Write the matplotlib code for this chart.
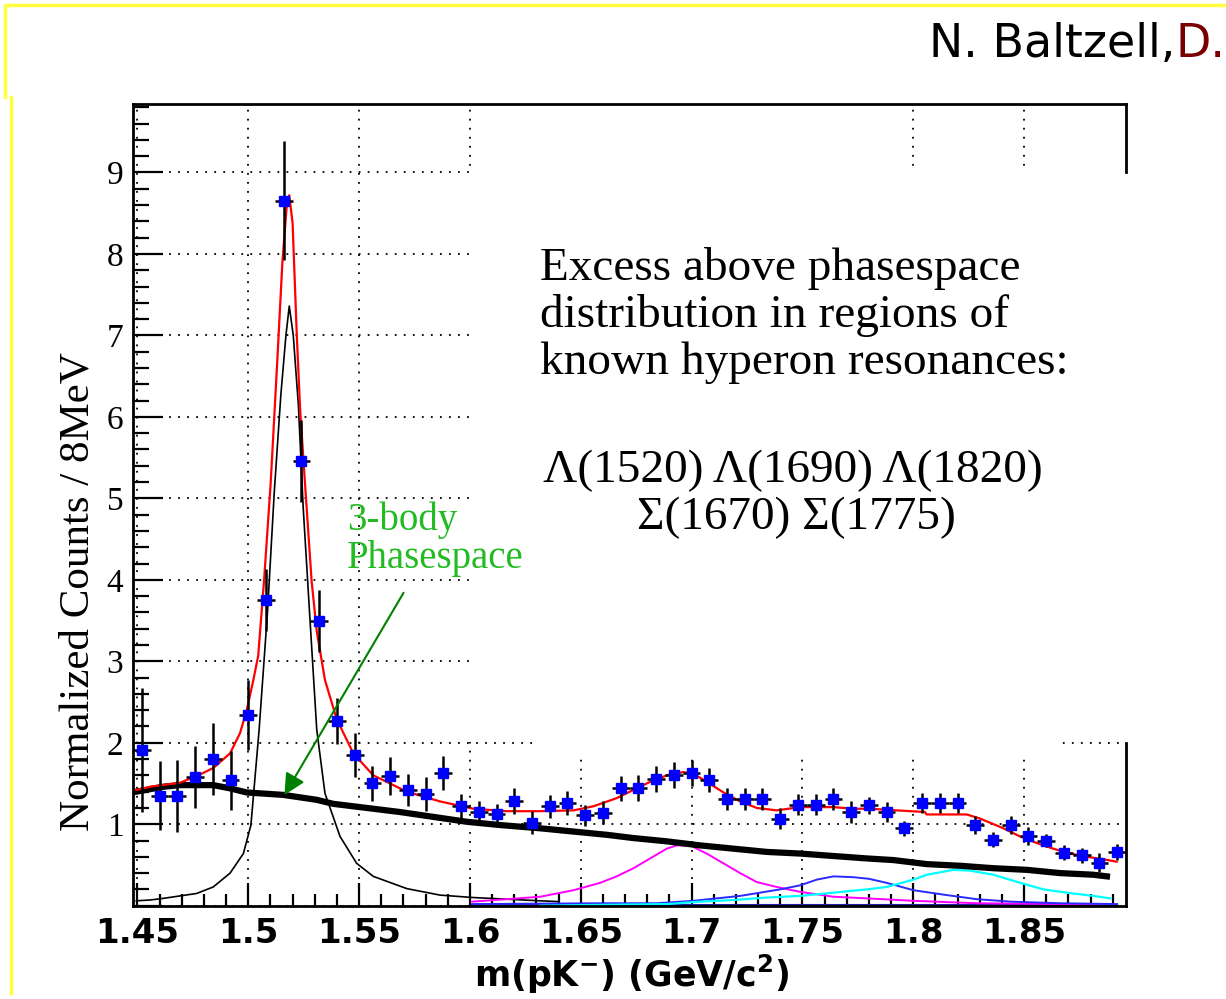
import numpy as np
import matplotlib
matplotlib.use('Agg')
import matplotlib.pyplot as plt
from matplotlib.lines import Line2D
from matplotlib.patches import Rectangle
from matplotlib.ticker import MultipleLocator, FuncFormatter

# histogram: 56 bins of 8 MeV from 1.448 GeV
bin_lo = 1.448
bin_w = 0.008
counts = [1.91, 1.35, 1.35, 1.58, 1.80, 1.54, 2.34, 3.75, 8.65, 5.46,
          3.50, 2.27, 1.85, 1.50, 1.59, 1.42, 1.37, 1.63, 1.22, 1.15,
          1.13, 1.29, 1.02, 1.22, 1.26, 1.11, 1.14, 1.44, 1.45, 1.55,
          1.60, 1.63, 1.54, 1.31, 1.31, 1.31, 1.07, 1.24, 1.24, 1.31,
          1.15, 1.23, 1.15, 0.95, 1.26, 1.26, 1.26, 0.99, 0.81, 0.99,
          0.86, 0.80, 0.65, 0.62, 0.53, 0.66]
errors = [0.76, 0.42, 0.44, 0.38, 0.44, 0.36, 0.43, 0.38, 0.73, 0.50,
          0.38, 0.28, 0.27, 0.22, 0.23, 0.20, 0.21, 0.21, 0.15, 0.13,
          0.12, 0.16, 0.14, 0.14, 0.15, 0.13, 0.14, 0.15, 0.16, 0.16,
          0.16, 0.16, 0.15, 0.14, 0.14, 0.14, 0.13, 0.13, 0.13, 0.14,
          0.13, 0.11, 0.12, 0.09, 0.12, 0.12, 0.12, 0.11, 0.09, 0.11,
          0.11, 0.08, 0.09, 0.09, 0.12, 0.10]
mass = bin_lo + bin_w * (np.arange(len(counts)) + 0.5)

# total fit
fit_m = [1.4495, 1.4557, 1.4692, 1.4767, 1.4842, 1.4918, 1.4963, 1.4993, 1.5023, 1.5045,
         1.5071, 1.5101, 1.5131, 1.5154, 1.5173, 1.5185, 1.5200, 1.5219, 1.5234, 1.5256,
         1.5286, 1.5309, 1.5346, 1.5399, 1.5474, 1.5564, 1.5715, 1.5865, 1.6016, 1.6166,
         1.6317, 1.6467, 1.6557, 1.6662, 1.6737, 1.6813, 1.6888, 1.6963, 1.7008, 1.7069,
         1.7144, 1.7219, 1.7294, 1.7384, 1.7489, 1.7640, 1.7730, 1.7805, 1.7926, 1.8053,
         1.8060, 1.8241, 1.8301, 1.8407, 1.8482, 1.8557, 1.8632, 1.8708, 1.8783, 1.8858,
         1.8918]
fit_y = [1.42, 1.46, 1.51, 1.59, 1.69, 1.87, 2.12, 2.40, 2.77, 3.07,
         3.98, 5.18, 6.69, 7.90, 8.57, 8.72, 8.38, 7.00, 6.09, 5.18,
         3.98, 3.37, 2.77, 2.29, 1.87, 1.60, 1.40, 1.28, 1.19, 1.16,
         1.16, 1.17, 1.22, 1.32, 1.42, 1.52, 1.60, 1.64, 1.62, 1.52,
         1.39, 1.28, 1.20, 1.17, 1.21, 1.21, 1.19, 1.19, 1.17, 1.15,
         1.12, 1.12, 1.07, 0.95, 0.85, 0.77, 0.70, 0.64, 0.60, 0.57,
         0.54]

# Lambda(1520) component
l1520_m = [1.4495, 1.4557, 1.4617, 1.4767, 1.4842, 1.4918, 1.4978, 1.5012, 1.5049, 1.5087,
           1.5117, 1.5147, 1.5170, 1.5185, 1.5203, 1.5226, 1.5248, 1.5279, 1.5309, 1.5346,
           1.5414, 1.5489, 1.5564, 1.5715, 1.5865, 1.6016, 1.6166, 1.6317, 1.6400]
l1520_y = [0.06, 0.07, 0.09, 0.15, 0.23, 0.40, 0.64, 0.99, 2.16, 3.61,
           5.06, 6.27, 7.00, 7.36, 7.00, 6.15, 4.88, 3.49, 2.16, 1.38,
           0.85, 0.52, 0.36, 0.21, 0.13, 0.10, 0.08, 0.06, 0.05]

# 3-body phasespace
ps_m = [1.4495, 1.4556, 1.4617, 1.4692, 1.4842, 1.4918, 1.4993, 1.5158, 1.5308, 1.5384,
        1.5504, 1.5684, 1.5835, 1.5986, 1.6136, 1.6317, 1.6467, 1.6618, 1.6738, 1.6888,
        1.7039, 1.7189, 1.7340, 1.7490, 1.7640, 1.7791, 1.7911, 1.8062, 1.8212, 1.8362,
        1.8513, 1.8663, 1.8813, 1.8874]
ps_y = [1.40, 1.43, 1.46, 1.48, 1.48, 1.44, 1.39, 1.36, 1.30, 1.25,
        1.21, 1.15, 1.09, 1.03, 0.99, 0.95, 0.91, 0.87, 0.83, 0.79,
        0.74, 0.70, 0.66, 0.64, 0.61, 0.58, 0.56, 0.51, 0.49, 0.46,
        0.44, 0.40, 0.38, 0.36]

# Lambda(1690)
l1690_m = [1.6010, 1.6166, 1.6317, 1.6467, 1.6587, 1.6662, 1.6738, 1.6813, 1.6888, 1.6933,
           1.6993, 1.7068, 1.7144, 1.7219, 1.7294, 1.7384, 1.7490, 1.7640, 1.7791, 1.8001,
           1.8287, 1.8693, 1.8900]
l1690_y = [0.05, 0.08, 0.11, 0.19, 0.28, 0.36, 0.46, 0.58, 0.70, 0.74,
           0.74, 0.64, 0.52, 0.40, 0.29, 0.23, 0.17, 0.11, 0.09, 0.06,
           0.03, 0.02, 0.02]

# Sigma(1775)
s1775_m = [1.6010, 1.6587, 1.6843, 1.7008, 1.7113, 1.7219, 1.7309, 1.7399, 1.7490, 1.7565,
           1.7640, 1.7730, 1.7800, 1.7881, 1.8001, 1.8152, 1.8287, 1.8438, 1.8663, 1.8920]
s1775_y = [0.02, 0.03, 0.03, 0.06, 0.09, 0.12, 0.16, 0.20, 0.25, 0.32,
           0.36, 0.35, 0.33, 0.28, 0.19, 0.13, 0.08, 0.05, 0.03, 0.02]

# Lambda(1820)
l1820_m = [1.6317, 1.6587, 1.6888, 1.7039, 1.7189, 1.7340, 1.7490, 1.7640, 1.7791, 1.7881,
           1.8001, 1.8062, 1.8182, 1.8257, 1.8362, 1.8483, 1.8588, 1.8693, 1.8813, 1.8889]
l1820_y = [0.00, 0.01, 0.02, 0.05, 0.07, 0.10, 0.12, 0.16, 0.20, 0.23,
           0.32, 0.38, 0.44, 0.43, 0.38, 0.28, 0.20, 0.16, 0.12, 0.09]

# Sigma(1670), nearly zero everywhere
s1670_m = [1.6010, 1.8920]
s1670_y = [0.01, 0.01]

xmin, xmax = 1.448, 1.896
ymin, ymax = 0.0, 9.84

W, H = 1226, 999
fig = plt.figure(figsize=(W / 100, H / 100), dpi=100)
ax = fig.add_axes([133 / W, (H - 905.7) / H, (1126 - 133) / W, (905.7 - 104) / H])

def px(x, y):
    return x / W, 1 - y / H

# slide border
fig.add_artist(Line2D([1.0, 5 / W, 5 / W], [1 - 5 / H, 1 - 5 / H, 1 - 97 / H],
                      color='#ffff40', lw=2.5))
fig.add_artist(Line2D([11 / W, 11 / W], [1 - 97 / H, 1 - 993 / H], color='#ffff40', lw=2.5))

ax.set_xlim(xmin, xmax)
ax.set_ylim(ymin, ymax)
ax.set_axisbelow(True)
ax.grid(True, which='major', color='black', linestyle=(0, (1, 4)), linewidth=1.3)

# white panels behind the annotation text
for x0, y0, x1, y1, clip in [(1.5995, 2.012, 1.92, 9.02, False),
                             (1.6008, 9.02, 1.79, ymax, True),
                             (1.630, 1.85, 1.8645, 2.012, True)]:
    ax.add_patch(Rectangle((x0, y0), x1 - x0, y1 - y0, facecolor='white',
                           edgecolor='none', zorder=1, clip_on=clip))

ax.spines['right'].set_visible(False)
for y0, y1 in [(9.0, ymax), (ymin, 2.0)]:
    ax.plot([xmax, xmax], [y0, y1], color='black', lw=2, clip_on=False, zorder=3)
for s in ['left', 'top', 'bottom']:
    ax.spines[s].set_linewidth(2)

ax.plot(l1520_m, l1520_y, color='black', lw=1.2, zorder=2)
ax.plot(s1670_m, s1670_y, color='#2020a0', lw=1.5, zorder=2)
ax.plot(l1690_m, l1690_y, color='#ff00ff', lw=1.4, zorder=2)
ax.plot(s1775_m, s1775_y, color='#2a2aff', lw=1.4, zorder=2)
ax.plot(l1820_m, l1820_y, color='#00ffff', lw=1.6, zorder=2)
ax.plot(ps_m, ps_y, color='black', lw=4.5, zorder=3)
ax.plot(fit_m, fit_y, color='red', lw=1.6, zorder=3)

ax.errorbar(mass, counts, xerr=bin_w / 2, yerr=errors, fmt='s', color='blue',
            markersize=6.5, ecolor='black', elinewidth=1.8, capsize=0, zorder=4)

ax.xaxis.set_major_locator(MultipleLocator(0.05))
ax.xaxis.set_minor_locator(MultipleLocator(0.01))
ax.yaxis.set_major_locator(MultipleLocator(1))
ax.yaxis.set_minor_locator(MultipleLocator(0.2))
ax.xaxis.set_major_formatter(FuncFormatter(lambda v, p: '%g' % round(v, 3)))
ax.yaxis.set_major_formatter(FuncFormatter(lambda v, p: '' if round(v) == 0 else '%d' % round(v)))

ax.tick_params(axis='both', which='both', direction='in', top=False, right=False,
               width=1.6, color='black')
ax.tick_params(axis='x', which='major', length=16.5, pad=8)
ax.tick_params(axis='x', which='minor', length=8.6)
ax.tick_params(axis='y', which='major', length=21.6, pad=7)
ax.tick_params(axis='y', which='minor', length=11.5)
for lab in ax.get_xticklabels():
    lab.set_fontfamily('DejaVu Sans')
    lab.set_fontweight('bold')
    lab.set_fontsize(24.5)
for lab in ax.get_yticklabels():
    lab.set_fontfamily('Liberation Serif')
    lab.set_fontsize(24)

fig.text(*px(631, 987), 'm(pK$^{\\mathbf{-}}$) (GeV/c$^{\\mathbf{2}}$)', ha='center',
         va='baseline', fontsize=25, fontweight='bold', family='DejaVu Sans')
fig.text(*px(78, 592), 'Normalized Counts / 8MeV', rotation=90, ha='center', va='center',
         fontsize=31, family='Liberation Serif')

# phasespace label and arrow
ax.annotate('', xy=(1.5157, 1.33), xytext=(1.5707, 3.87),
            arrowprops=dict(arrowstyle='-|>', color='#008000', lw=1.5, mutation_scale=32),
            zorder=5)
fig.text(*px(347, 530), '3-body', fontsize=28, color='#22bb22', family='Liberation Serif',
         va='baseline')
fig.text(*px(347, 568), 'Phasespace', fontsize=28, color='#22bb22', family='Liberation Serif',
         va='baseline')

# resonance note
note = ['Excess above phasespace', 'distribution in regions of', 'known hyperon resonances:']
for i, line in enumerate(note):
    fig.text(*px(540, 280 + 47 * i), line, fontsize=34, family='Liberation Serif',
             va='baseline')
fig.text(*px(793, 482), '\u039b(1520) \u039b(1690) \u039b(1820)', fontsize=34,
         family='Liberation Serif', ha='center', va='baseline')
fig.text(*px(796, 529), '\u03a3(1670) \u03a3(1775)', fontsize=34,
         family='Liberation Serif', ha='center', va='baseline')

# author line, running off the right edge
fig.text(*px(929, 57), 'N. Baltzell,', fontsize=33, family='DejaVu Sans', va='baseline')
fig.text(*px(1176, 57), 'D.', fontsize=33, family='DejaVu Sans', va='baseline', color='#7a0000')

fig.savefig('out.png', dpi=100)
